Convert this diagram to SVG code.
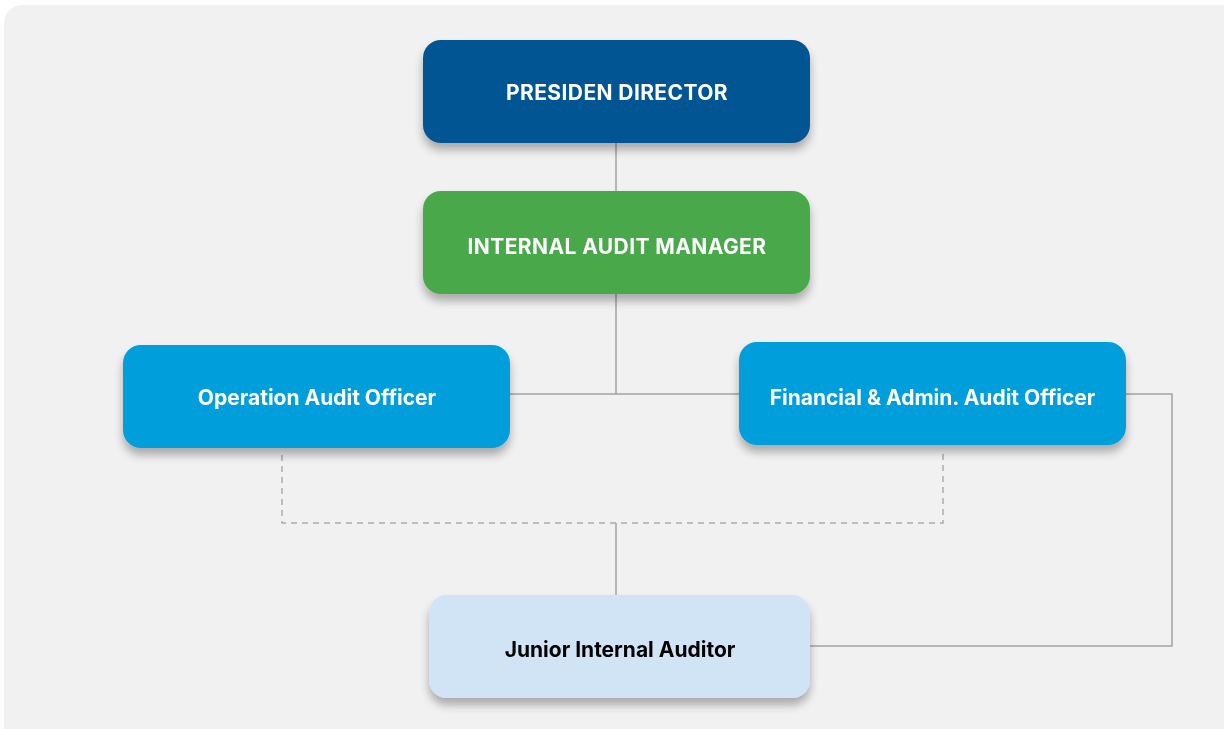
<svg xmlns="http://www.w3.org/2000/svg" width="1224" height="729" viewBox="0 0 1224 729">
<defs>
<filter id="sh" x="-10%" y="-20%" width="120%" height="160%">
<feGaussianBlur in="SourceAlpha" stdDeviation="5"/>
<feOffset dx="0" dy="7" result="b"/>
<feComponentTransfer><feFuncA type="linear" slope="0.3"/></feComponentTransfer>
<feMerge><feMergeNode/><feMergeNode in="SourceGraphic"/></feMerge>
</filter>
<style>
.lbl{font-family:Inter,"Liberation Sans",sans-serif;font-weight:700;font-size:21px;text-anchor:middle;dominant-baseline:central;fill:#ffffff}
.up{letter-spacing:0.4px}
.ln{fill:none;stroke:#a3a3a3;stroke-width:1.5}
.ds{fill:none;stroke:#acacac;stroke-width:1.5;stroke-dasharray:6 5}
</style>
</defs>
<rect x="0" y="0" width="1224" height="729" fill="#ffffff"/>
<rect x="4" y="5" width="1240" height="760" rx="18" fill="#f1f1f1"/>
<g id="connectors">
<path class="ln" d="M616 143 V191"/>
<path class="ln" d="M616 294 V394 M510 394 H739"/>
<path class="ln" d="M1126 394 H1172 V646 H810"/>
<path class="ds" d="M282 455 V523 H943 V449"/>
<path class="ln" d="M616 523 V595"/>
</g>
<g id="presiden-director" filter="url(#sh)">
<rect x="423" y="40" width="387" height="103" rx="18" fill="#005492"/>
<text class="lbl up" x="617" y="92">PRESIDEN DIRECTOR</text>
</g>
<g id="internal-audit-manager" filter="url(#sh)">
<rect x="423" y="191" width="387" height="103" rx="18" fill="#48a84a"/>
<text class="lbl up" x="617" y="246">INTERNAL AUDIT MANAGER</text>
</g>
<g id="operation-audit-officer" filter="url(#sh)">
<rect x="123" y="345" width="387" height="103" rx="18" fill="#009fdb"/>
<text class="lbl" x="317" y="397">Operation Audit Officer</text>
</g>
<g id="financial-admin-audit-officer" filter="url(#sh)">
<rect x="739" y="342" width="387" height="103" rx="18" fill="#009fdb"/>
<text class="lbl" x="932.5" y="397">Financial &amp; Admin. Audit Officer</text>
</g>
<g id="junior-internal-auditor" filter="url(#sh)">
<rect x="429" y="595" width="381" height="103" rx="18" fill="#d1e4f5"/>
<text class="lbl" x="620" y="649" style="fill:#000000">Junior Internal Auditor</text>
</g>
</svg>
